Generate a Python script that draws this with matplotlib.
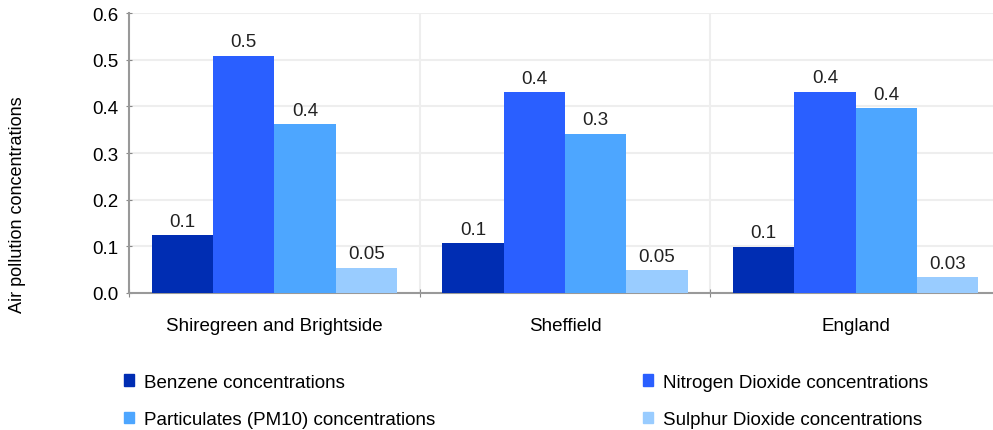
# grouped bar chart of air pollution concentrations by area
import matplotlib.pyplot as plt
import numpy as np
from matplotlib.patches import Patch

plt.rcParams['font.family'] = ['Liberation Sans', 'DejaVu Sans']

areas = ['Shiregreen and Brightside', 'Sheffield', 'England']
series = ['Benzene concentrations', 'Nitrogen Dioxide concentrations',
          'Particulates (PM10) concentrations', 'Sulphur Dioxide concentrations']
benzene = [0.124, 0.107, 0.099]
nitrogen = [0.508, 0.430, 0.431]
pm10 = [0.362, 0.341, 0.396]
sulphur = [0.054, 0.049, 0.034]
colors = ['#002db3', '#2a5fff', '#4da6ff', '#99ccff']

fs = 13.5
fig = plt.figure(figsize=(9.93, 4.31), dpi=100)
ax = fig.add_axes([129/993, 137/431, 872/993, 280/431])

x = np.arange(len(areas))
w = 0.211
for i, vals in enumerate([benzene, nitrogen, pm10, sulphur]):
    pos = x + (i - 1.5) * w
    ax.bar(pos, vals, width=w, color=colors[i], zorder=3)
    for p, v in zip(pos, vals):
        ax.annotate(f'{v:.1g}', (p, v), xytext=(0, 4), textcoords='offset points',
                    ha='center', va='bottom', fontsize=fs, color='#222222')

ax.set_xlim(-0.5, 2.5)
ax.set_ylim(0, 0.6)
ax.set_yticks([0, 0.1, 0.2, 0.3, 0.4, 0.5, 0.6])
ax.set_yticklabels(['0.0', '0.1', '0.2', '0.3', '0.4', '0.5', '0.6'])
ax.set_xticks([-0.5, 0.5, 1.5], minor=False)
ax.set_xticklabels([])
ax.set_xticks(x, minor=True)
ax.set_xticklabels(areas, minor=True)
ax.tick_params(axis='x', which='minor', length=0, pad=17, labelsize=fs)
ax.tick_params(axis='x', which='major', length=6, color='#888888', direction='inout')
ax.tick_params(axis='y', length=5, color='#888888', labelsize=fs, pad=5, direction='inout')

for s in ['top', 'right']:
    ax.spines[s].set_visible(False)
for s in ['left', 'bottom']:
    ax.spines[s].set_color('#999999')
    ax.spines[s].set_linewidth(1.5)
ax.yaxis.grid(True, color='#eeeeee', linewidth=1.5)
for b in [0.5, 1.5]:
    ax.axvline(b, color='#eeeeee', linewidth=1.5, zorder=0)
ax.set_axisbelow(True)

fig.text(18/993, 1 - 205/431, 'Air pollution concentrations', rotation=90,
         ha='center', va='center', fontsize=13)

handles = [Patch(color=c) for c in colors]
leg = fig.legend([handles[0], handles[2], handles[1], handles[3]],
                 [series[0], series[2], series[1], series[3]],
                 ncol=2, loc='center left', bbox_to_anchor=(124/993, 1 - 402/431),
                 frameon=False, fontsize=fs, handlelength=0.55, handleheight=0.55,
                 handletextpad=0.5, columnspacing=11.1, labelspacing=1.1,
                 borderpad=0, borderaxespad=0)

plt.savefig('out.png', dpi=100)
